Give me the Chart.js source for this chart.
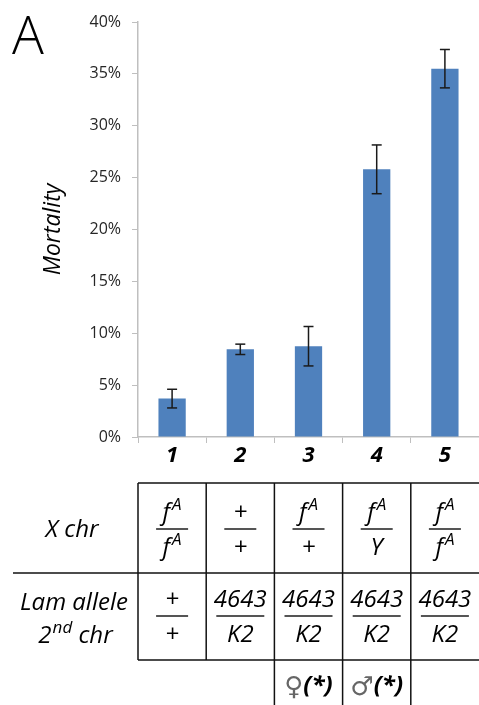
<!DOCTYPE html>
<html>
<head>
<meta charset="utf-8">
<script src="https://cdn.jsdelivr.net/npm/chart.js@4"></script>
<style>
  html, body { margin: 0; padding: 0; background: #fff; }
  canvas { display: block; }
</style>
</head>
<body>
<canvas id="chart" width="479" height="705"></canvas>
<script>
/* Mortality per genotype, with error bars */
const categories = ['1', '2', '3', '4', '5'];
const mortality = [3.7, 8.45, 8.75, 25.8, 35.5];
const errors = [0.9, 0.5, 1.9, 2.35, 1.85];
const yTicks = [0, 5, 10, 15, 20, 25, 30, 35, 40];

/* Genotype table below the axis */
const xChrTop = ['f|A', '+', 'f|A', 'f|A', 'f|A'];
const xChrBottom = ['f|A', '+', '+', 'Y', 'f|A'];
const lamTop = ['+', '4643', '4643', '4643', '4643'];
const lamBottom = ['+', 'K2', 'K2', 'K2', 'K2'];
const sexSymbols = ['', '', '\u2640', '\u2642', ''];
const sexNotes = ['', '', '(*)', '(*)', ''];

const FONT = "'Open Sans', 'Segoe UI', sans-serif";
const BAR_COLOR = '#4f81bd';
const AXIS_COLOR = '#bfbfbf';

/* text like "f|A" = f with superscript A */
function drawSup(ctx, text, cx, baseline, size) {
    const parts = text.split('|');
    const supSize = Math.round(size * 0.72);
    ctx.font = `italic ${size}px ${FONT}`;
    const w0 = ctx.measureText(parts[0]).width;
    let w1 = 0;
    if (parts[1]) {
        ctx.font = `italic ${supSize}px ${FONT}`;
        w1 = ctx.measureText(parts[1]).width + 2;
    }
    const x = cx - (w0 + w1) / 2;
    ctx.textAlign = 'left';
    ctx.textBaseline = 'alphabetic';
    ctx.font = `italic ${size}px ${FONT}`;
    ctx.fillText(parts[0], x, baseline);
    if (parts[1]) {
        ctx.font = `italic ${supSize}px ${FONT}`;
        ctx.fillText(parts[1], x + w0 + 2, baseline - size * 0.42);
    }
    return w0 + w1;
}

function drawFraction(ctx, cx, barY, top, bottom) {
    ctx.fillStyle = '#000';
    const wt = drawSup(ctx, top, cx, barY - 9, 24);
    const wb = drawSup(ctx, bottom, cx, barY + 26, 24);
    const bw = Math.max(32, Math.min(48, Math.max(wt, wb)));
    ctx.strokeStyle = '#555';
    ctx.lineWidth = 2;
    ctx.beginPath();
    ctx.moveTo(cx - bw / 2, barY);
    ctx.lineTo(cx + bw / 2, barY);
    ctx.stroke();
}

function line(ctx, x1, y1, x2, y2) {
    ctx.beginPath();
    ctx.moveTo(x1, y1);
    ctx.lineTo(x2, y2);
    ctx.stroke();
}

const errorBars = {
    id: 'errorBars',
    afterDatasetsDraw(chart) {
        const { ctx, scales: { y } } = chart;
        const meta = chart.getDatasetMeta(0);
        ctx.save();
        ctx.strokeStyle = '#1a1a1a';
        ctx.lineWidth = 1.5;
        meta.data.forEach((bar, i) => {
            const top = y.getPixelForValue(mortality[i] + errors[i]);
            const bot = y.getPixelForValue(mortality[i] - errors[i]);
            line(ctx, bar.x, top, bar.x, bot);
            line(ctx, bar.x - 5, top, bar.x + 5, top);
            line(ctx, bar.x - 5, bot, bar.x + 5, bot);
        });
        ctx.restore();
    },
};

const genotypeTable = {
    id: 'genotypeTable',
    afterDraw(chart) {
        const { ctx, scales: { x } } = chart;
        const step = x.width / categories.length;
        const edge = i => x.getPixelForValue(i) - step / 2;
        const rTop = 483, rMid = 573, rBot = 660, rEnd = 705;
        const right = chart.width;

        ctx.save();
        // panel letter
        ctx.fillStyle = '#000';
        ctx.font = `300 53px ${FONT}`;
        ctx.textAlign = 'left';
        ctx.textBaseline = 'alphabetic';
        ctx.fillText('A', 12, 54);

        // grid lines
        ctx.strokeStyle = '#111';
        ctx.lineWidth = 1.5;
        line(ctx, edge(0), rTop, right, rTop);
        line(ctx, 13, rMid, right, rMid);
        line(ctx, edge(0), rBot, right, rBot);
        line(ctx, edge(0), rTop, edge(0), rBot);
        line(ctx, edge(1), rTop, edge(1), rBot);
        for (let i = 2; i < categories.length; i++) {
            line(ctx, edge(i), rTop, edge(i), rEnd);
        }

        // row headers
        ctx.fillStyle = '#000';
        ctx.textAlign = 'center';
        ctx.textBaseline = 'alphabetic';
        ctx.font = `italic 24px ${FONT}`;
        ctx.fillText('X chr', 72, 537);
        ctx.fillText('Lam allele', 74, 610);
        ctx.textAlign = 'left';
        const w2 = ctx.measureText('2').width;
        ctx.font = `italic 17px ${FONT}`;
        const wnd = ctx.measureText('nd').width;
        ctx.font = `italic 24px ${FONT}`;
        const wchr = ctx.measureText(' chr').width;
        const sx = 75 - (w2 + wnd + wchr) / 2;
        ctx.fillText('2', sx, 643);
        ctx.font = `italic 17px ${FONT}`;
        ctx.fillText('nd', sx + w2 + 1, 633);
        ctx.font = `italic 24px ${FONT}`;
        ctx.fillText(' chr', sx + w2 + wnd + 1, 643);

        // fractions and sex notes
        categories.forEach((c, i) => {
            const cx = x.getPixelForValue(i);
            drawFraction(ctx, cx, 529, xChrTop[i], xChrBottom[i]);
            drawFraction(ctx, cx, 616, lamTop[i], lamBottom[i]);
            if (sexSymbols[i]) {
                ctx.textBaseline = 'alphabetic';
                ctx.textAlign = 'left';
                const symFont = `26px 'DejaVu Sans', ${FONT}`;
                ctx.font = symFont;
                const ws = ctx.measureText(sexSymbols[i]).width;
                ctx.font = `italic bold 24px ${FONT}`;
                const wn = ctx.measureText(sexNotes[i]).width;
                const x0 = cx - (ws + wn) / 2;
                ctx.font = symFont;
                ctx.fillStyle = '#666';
                ctx.fillText(sexSymbols[i], x0, 695);
                ctx.fillStyle = '#000';
                ctx.font = `italic bold 24px ${FONT}`;
                ctx.fillText(sexNotes[i], x0 + ws, 693);
            }
        });
        ctx.restore();
    },
};

new Chart(document.getElementById('chart'), {
    type: 'bar',
    data: {
        labels: categories,
        datasets: [{
            data: mortality,
            backgroundColor: BAR_COLOR,
            borderWidth: 0,
            barPercentage: 0.4,
            categoryPercentage: 1,
        }],
    },
    options: {
        responsive: false,
        animation: false,
        events: [],
        layout: { padding: { top: 22, right: 0, bottom: 0, left: 0 } },
        plugins: {
            legend: { display: false },
            tooltip: { enabled: false },
        },
        scales: {
            x: {
                afterFit(scale) { scale.height = 268; },
                grid: { drawOnChartArea: false, color: AXIS_COLOR, tickLength: 6, offset: true },
                border: { color: AXIS_COLOR, width: 1.5 },
                ticks: {
                    font: { family: FONT, size: 22, weight: 'bold', style: 'italic' },
                    color: '#000',
                    padding: 0,
                },
            },
            y: {
                min: 0,
                max: 40,
                afterFit(scale) { scale.width = 138; },
                afterBuildTicks(scale) { scale.ticks = yTicks.map(v => ({ value: v })); },
                grid: { drawOnChartArea: false, color: AXIS_COLOR, tickLength: 6 },
                border: { color: AXIS_COLOR, width: 1.5 },
                ticks: {
                    font: { family: FONT, size: 16 },
                    color: '#262626',
                    padding: 11,
                    callback: v => v + '%',
                },
                title: {
                    display: true,
                    text: 'Mortality',
                    font: { family: FONT, size: 23, style: 'italic' },
                    color: '#000',
                    padding: { top: 40, bottom: 0 },
                },
            },
        },
    },
    plugins: [errorBars, genotypeTable],
});
</script>
</body>
</html>
